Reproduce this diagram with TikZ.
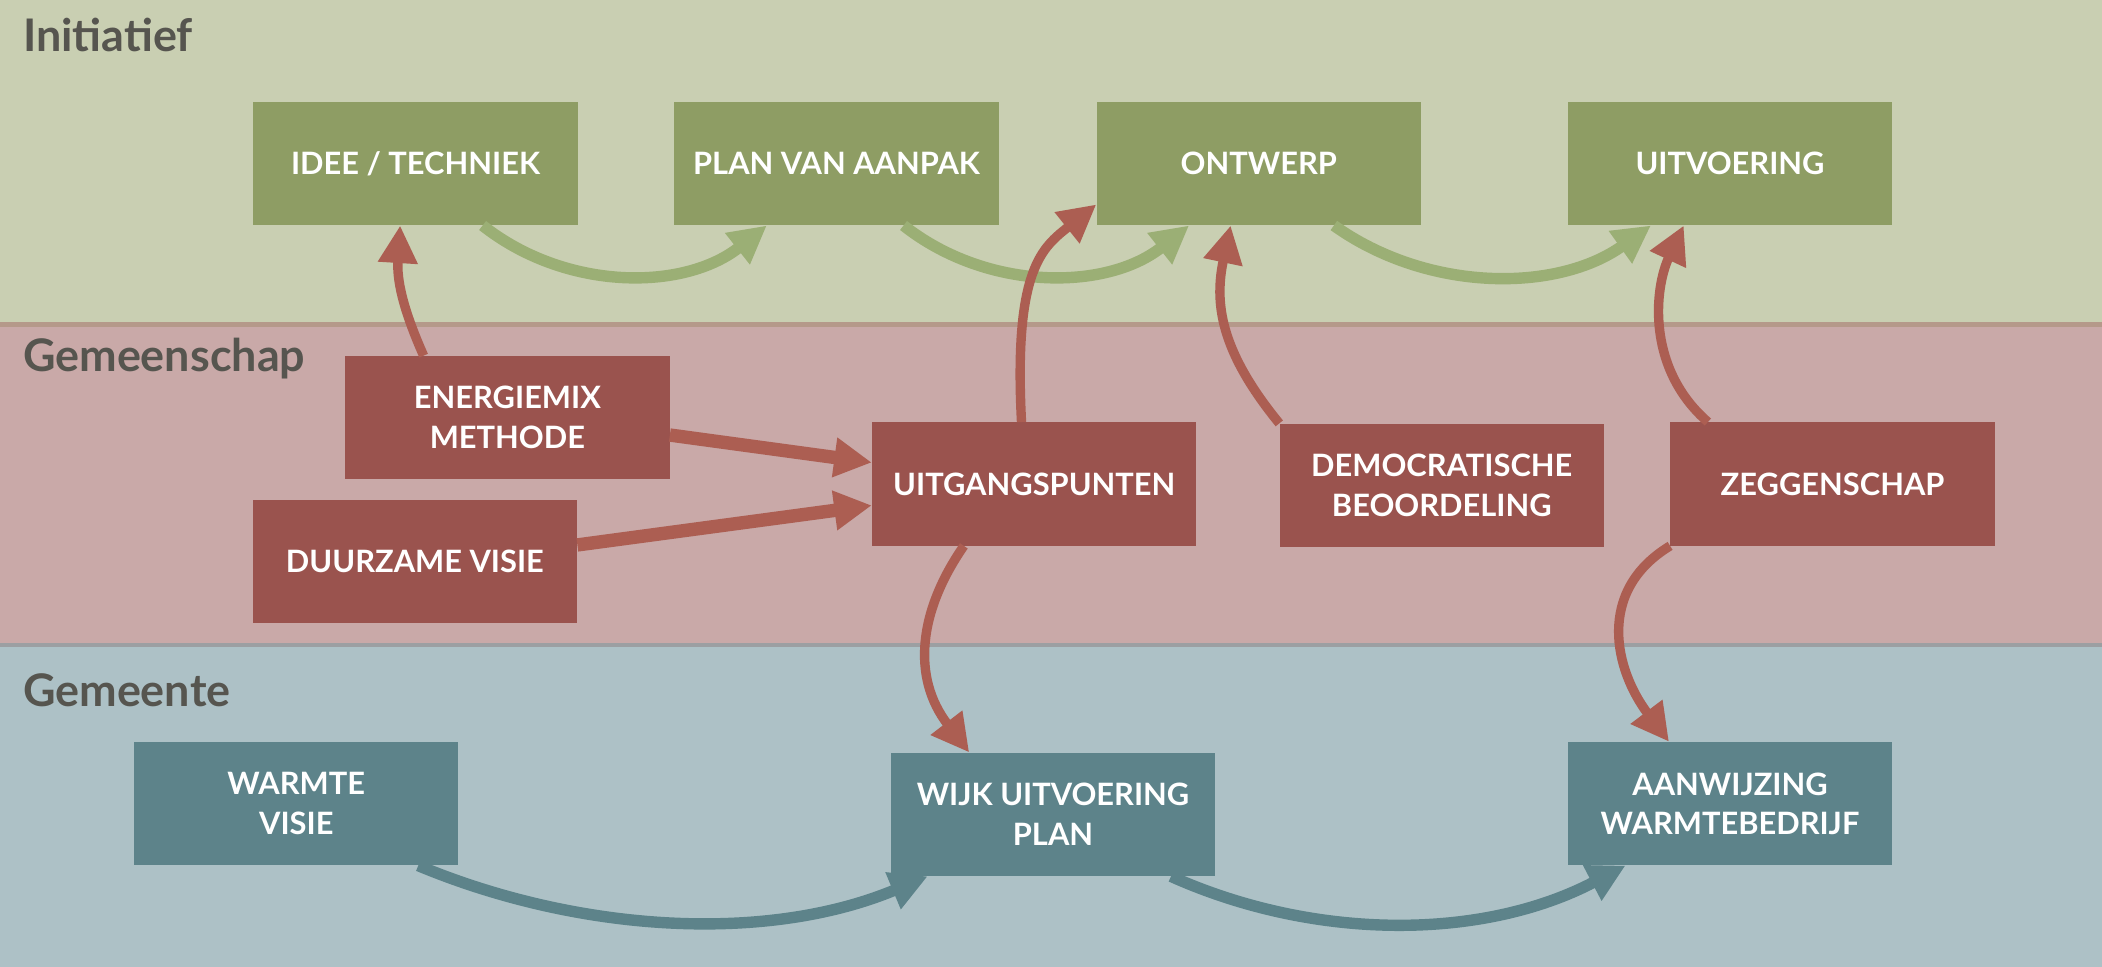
\documentclass[tikz,border=0pt]{standalone}
\usepackage{fontspec}
\setmainfont{Lato}
\usetikzlibrary{arrows.meta}
\definecolor{bgG}{HTML}{C9CFB2}
\definecolor{bgR}{HTML}{C9A9A8}
\definecolor{bgB}{HTML}{ADC1C6}
\definecolor{boxG}{HTML}{8E9D64}
\definecolor{boxR}{HTML}{9A534E}
\definecolor{boxT}{HTML}{5D838A}
\definecolor{arrG}{HTML}{9BAF75}
\definecolor{arrR}{HTML}{AC5E52}
\definecolor{arrT}{HTML}{5D838A}
\definecolor{titleC}{HTML}{56554F}
\definecolor{lineA}{HTML}{B5998A}
\definecolor{lineB}{HTML}{9C9FA2}
\begin{document}
\begin{tikzpicture}[x=1pt,y=-1pt,
  box/.style={rectangle, minimum width=242pt, minimum height=92pt, inner sep=0pt,
    text=white, align=center, font=\fontsize{23}{29.5}\selectfont\bfseries},
  gbox/.style={box, fill=boxG},
  rbox/.style={box, fill=boxR},
  tbox/.style={box, fill=boxT},
  lane/.style={anchor=base west, text=titleC, inner sep=0pt,
    font=\fontsize{33.5}{36}\selectfont\bfseries},
  headstyle/.style={-{Triangle[length=28pt,width=28pt]}},
  garrow/.style={headstyle, draw=arrG, line width=8.5pt},
  tarrow/.style={headstyle, draw=arrT, line width=8.5pt},
  rarrow/.style={headstyle, draw=arrR, line width=7pt},
  rstraight/.style={headstyle, draw=arrR, line width=10pt}
]
\useasboundingbox (0,0) rectangle (1568,721);
% lanes
\fill[bgG] (0,0) rectangle (1568,242);
\fill[bgR] (0,242) rectangle (1568,481);
\fill[bgB] (0,481) rectangle (1568,721);
\draw[lineA, line width=4pt] (0,242) -- (1568,242);
\draw[lineB, line width=3pt] (0,481) -- (1568,481);
\node[lane] (t1) at (17,38.5) {Initiatief};
\node[lane] (t2) at (17,277) {Gemeenschap};
\node[lane] (t3) at (17,527) {Gemeente};
% boxes
\node[gbox] (idee) at (310,122) {IDEE / TECHNIEK};
\node[gbox] (plan) at (624,122) {PLAN VAN AANPAK};
\node[gbox] (ontwerp) at (939,122) {ONTWERP};
\node[gbox] (uitv) at (1290.5,122) {UITVOERING};
\node[rbox] (energie) at (378.5,311.5) {ENERGIEMIX\\METHODE};
\node[rbox] (duurzaam) at (309.5,419) {DUURZAME VISIE};
\node[rbox] (uitg) at (771.5,361) {UITGANGSPUNTEN};
\node[rbox] (demo) at (1075.5,362) {DEMOCRATISCHE\\BEOORDELING};
\node[rbox] (zeg) at (1367,361) {ZEGGENSCHAP};
\node[tbox] (warmte) at (221,599.5) {WARMTE\\VISIE};
\node[tbox] (wijk) at (785.5,607.5) {WIJK UITVOERING\\PLAN};
\node[tbox] (aanw) at (1290.5,599.5) {AANWIJZING\\WARMTEBEDRIJF};
% green flow
\draw[garrow] ([xshift=50pt]idee.south) .. controls +(62,49) and +(-62,49) .. ([xshift=-52pt]plan.south);
\draw[garrow] ([xshift=50pt]plan.south) .. controls +(62,49) and +(-62,49) .. ([xshift=-52pt]ontwerp.south);
\draw[garrow] ([xshift=56pt]ontwerp.south) .. controls +(70,50) and +(-70,50) .. ([xshift=-59pt]uitv.south);
% teal flow
\draw[tarrow] ([xshift=91pt]warmte.south) .. controls +(120,50) and +(-120,50) .. ([xshift=-93.5pt]wijk.south);
\draw[tarrow] ([xshift=88pt]wijk.south) .. controls +(107,48) and +(-107,56) .. ([xshift=-78pt]aanw.south);
% red connectors
\draw[rarrow] ([xshift=-62.5pt]energie.north) .. controls +(-16,-36) and +(-2.5,40) .. ([xshift=-11.5pt]idee.south);
\draw[rstraight] ([yshift=-13pt]energie.east) -- ([yshift=16pt]uitg.west);
\draw[rstraight] ([yshift=12.5pt]duurzaam.east) -- ([yshift=-16pt]uitg.west);
\draw[rarrow] ([xshift=-9.5pt]uitg.north) .. controls +(-6,-115) and +(-40,32) .. ([yshift=-30.5pt]ontwerp.west);
\draw[rarrow] (demo.north west) .. controls +(-45,-55) and +(-12,57) .. ([xshift=-21pt]ontwerp.south);
\draw[rarrow] ([xshift=-93pt]zeg.north) .. controls +(-46,-40) and +(-22,47) .. ([xshift=-34.5pt]uitv.south);
\draw[rarrow] ([xshift=-52.5pt]uitg.south) .. controls +(-34,49) and +(-43,-56) .. ([xshift=-62.5pt]wijk.north);
\draw[rarrow] (zeg.south west) .. controls +(-56,34) and +(-40,-53) .. ([xshift=-45.5pt]aanw.north);
\end{tikzpicture}
\end{document}
